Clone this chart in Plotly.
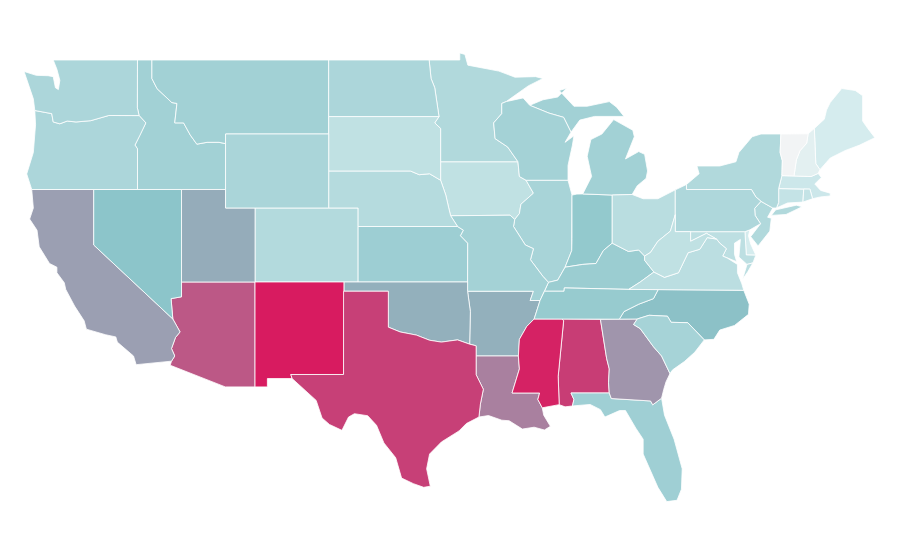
import plotly.graph_objects as go
from plotly.colors import sample_colorscale

states = ['AL','AR','AZ','CA','CO','CT','DE','FL','GA','IA','ID','IL','IN','KS','KY','LA','MA','MD','ME','MI','MN','MO','MS','MT','NC','ND','NE','NH','NJ','NM','NV','NY','OH','OK','OR','PA','RI','SC','SD','TN','TX','UT','VA','VT','WA','WI','WV','WY']
values = [90,56,82,61,31,23,15,40,64,25,39,36,46,41,42,70,19,26,15,39,32,38,98,39,51,34,30,8,32,100,49,32,28,56,34,33,23,37,25,44,89,57,27,0,34,38,25,35]

# 颜色刻度
colorscale = [[0, '#f2f4f5'], [0.15, '#d5ecee'], [0.5, '#8ac4c9'], [1, '#d81b60']]

# 州界 (lon, lat)：底图 topojson 无法离线加载，只能手工估计
outlines = {
    'WA': [[(-124.73,48.38),(-123.9,48.17),(-123.1,48.15),(-122.75,48.1),(-122.6,47.5),(-122.4,47.4),(-122.3,47.9),(-122.5,48.5),(-122.75,49),(-117.03,49),(-117.04,46.42),(-116.92,45.995),(-118.98,46),(-119.3,45.93),(-120.2,45.72),(-121.2,45.65),(-121.8,45.7),(-122.3,45.55),(-122.75,45.65),(-122.85,46.1),(-123.4,46.2),(-124,46.27),(-124.1,46.9),(-124.4,47.6)]],
    'OR': [[(-124,46.27),(-123.4,46.2),(-122.85,46.1),(-122.75,45.65),(-122.3,45.55),(-121.8,45.7),(-121.2,45.65),(-120.2,45.72),(-119.3,45.93),(-118.98,46),(-116.92,45.995),(-116.46,45.6),(-116.85,44.95),(-117.2,44.4),(-117.03,44.2),(-117.03,42),(-124.21,42),(-124.55,42.84),(-124.1,44),(-123.95,45.5)]],
    'CA': [[(-124.21,42),(-120,42),(-120,39),(-114.63,35),(-114.14,34.3),(-114.45,34),(-114.72,33.4),(-114.5,33),(-114.72,32.72),(-117.12,32.53),(-117.3,33),(-118.4,33.75),(-118.5,34.03),(-119.2,34.15),(-120.5,34.45),(-120.65,34.9),(-121.3,35.7),(-121.9,36.6),(-122,36.96),(-122.5,37.5),(-122.5,37.8),(-123,38),(-123.7,38.9),(-123.85,39.8),(-124.35,40.4),(-124.1,41)]],
    'NV': [[(-120,42),(-114.04,42),(-114.04,36.2),(-114.75,36.1),(-114.63,35),(-120,39)]],
    'ID': [[(-117.03,49),(-116.05,49),(-116.05,48),(-115.7,47.45),(-114.7,46.7),(-114.35,46.65),(-114.5,45.6),(-113.9,45.6),(-113.45,44.95),(-113,44.45),(-112.3,44.55),(-111.5,44.55),(-111.05,44.48),(-111.05,42),(-117.03,42),(-117.03,44.2),(-117.2,44.4),(-116.85,44.95),(-116.46,45.6),(-116.92,45.995),(-117.04,46.42)]],
    'MT': [[(-116.05,49),(-104.05,49),(-104.05,45),(-111.05,45),(-111.05,44.48),(-111.5,44.55),(-112.3,44.55),(-113,44.45),(-113.45,44.95),(-113.9,45.6),(-114.5,45.6),(-114.35,46.65),(-114.7,46.7),(-115.7,47.45),(-116.05,48)]],
    'WY': [[(-111.05,45),(-104.05,45),(-104.05,41),(-111.05,41)]],
    'UT': [[(-114.04,42),(-111.05,42),(-111.05,41),(-109.05,41),(-109.05,37),(-114.04,37)]],
    'CO': [[(-109.05,41),(-102.05,41),(-102.05,37),(-109.05,37)]],
    'AZ': [[(-114.04,37),(-109.05,37),(-109.05,31.33),(-111.07,31.33),(-114.81,32.5),(-114.72,32.72),(-114.5,33),(-114.72,33.4),(-114.45,34),(-114.14,34.3),(-114.63,35),(-114.75,36.1),(-114.04,36.2)]],
    'NM': [[(-109.05,37),(-103,37),(-103.04,32),(-106.62,32),(-106.53,31.78),(-108.21,31.78),(-108.21,31.33),(-109.05,31.33)]],
    'TX': [[(-103.04,36.5),(-100,36.5),(-100,34.56),(-99.2,34.3),(-98.1,34.13),(-97.2,33.85),(-96.4,33.75),(-95.3,33.87),(-94.48,33.64),(-94.04,33.55),(-94.04,31.99),(-93.55,31.2),(-93.75,30.4),(-93.85,29.7),(-94.7,29.35),(-95.2,28.95),(-96.4,28.35),(-97.2,27.7),(-97.4,26.9),(-97.15,25.96),(-97.6,25.9),(-98.3,26.1),(-99.1,26.4),(-99.5,27.5),(-100.3,28.3),(-100.8,29.25),(-101.4,29.77),(-102.3,29.88),(-102.7,29.7),(-103.15,28.98),(-104,29.3),(-104.5,29.65),(-104.9,30.6),(-106,31.4),(-106.53,31.78),(-106.62,32),(-103.04,32)]],
    'OK': [[(-103,37),(-94.62,37),(-94.62,36.5),(-94.43,35.4),(-94.48,33.64),(-95.3,33.87),(-96.4,33.75),(-97.2,33.85),(-98.1,34.13),(-99.2,34.3),(-100,34.56),(-100,36.5),(-103,36.5)]],
    'KS': [[(-102.05,40),(-95.3,40),(-94.9,39.8),(-95.1,39.5),(-94.61,39.1),(-94.62,37),(-102.05,37)]],
    'NE': [[(-104.05,43),(-98.5,43),(-97.9,42.8),(-97.2,42.85),(-96.45,42.5),(-96.1,41.7),(-95.9,41),(-95.77,40.58),(-95.3,40),(-102.05,40),(-102.05,41),(-104.05,41)]],
    'SD': [[(-104.05,45.94),(-96.56,45.94),(-96.85,45.6),(-96.45,45.3),(-96.45,42.5),(-97.2,42.85),(-97.9,42.8),(-98.5,43),(-104.05,43)]],
    'ND': [[(-104.05,49),(-97.23,49),(-97.1,48),(-96.85,47.5),(-96.56,45.94),(-104.05,45.94)]],
    'MN': [[(-97.23,49),(-95.15,49),(-95.15,49.38),(-94.8,49.3),(-94.6,48.72),(-93.5,48.55),(-92.5,48.4),(-91.4,48.07),(-90,48.1),(-89.5,48),(-90.5,47.6),(-92,46.75),(-92.3,46.65),(-92.3,46.1),(-92.85,45.6),(-92.75,44.75),(-91.9,44.3),(-91.2,43.5),(-96.45,43.5),(-96.45,45.3),(-96.85,45.6),(-96.56,45.94),(-96.85,47.5),(-97.1,48)]],
    'IA': [[(-96.45,43.5),(-91.2,43.5),(-91.1,42.7),(-90.65,42.5),(-90.15,41.8),(-91,41.2),(-91.1,40.7),(-91.42,40.38),(-91.73,40.61),(-95.77,40.58),(-95.9,41),(-96.1,41.7),(-96.45,42.5)]],
    'MO': [[(-95.77,40.58),(-91.73,40.61),(-91.42,40.38),(-91.5,40),(-90.7,39),(-90.15,38.8),(-90.35,38.2),(-89.5,37.3),(-89.13,36.98),(-89.4,36.5),(-89.7,36),(-90.37,36),(-90.15,36.5),(-94.62,36.5),(-94.62,37),(-94.61,39.1),(-95.1,39.5),(-94.9,39.8),(-95.3,40)]],
    'AR': [[(-94.62,36.5),(-90.15,36.5),(-90.37,36),(-89.7,36),(-90.1,35),(-90.6,34.6),(-91.1,33.9),(-91.17,33),(-94.04,33),(-94.04,33.55),(-94.48,33.64),(-94.43,35.4)]],
    'LA': [[(-94.04,33),(-91.17,33),(-91.1,32.3),(-91.6,31),(-89.73,31),(-89.85,30.65),(-89.55,30.2),(-89.45,29.8),(-89,29.2),(-89.4,29),(-90.1,29.15),(-90.9,29.05),(-91.8,29.5),(-92.3,29.53),(-93.2,29.78),(-93.85,29.7),(-93.75,30.4),(-93.55,31.2),(-94.04,31.99)]],
    'MS': [[(-90.1,35),(-88.2,35),(-88.1,34.9),(-88.47,31.9),(-88.4,30.37),(-89.55,30.2),(-89.85,30.65),(-89.73,31),(-91.6,31),(-91.1,32.3),(-91.17,33),(-91.1,33.9),(-90.6,34.6)]],
    'AL': [[(-88.2,35),(-85.6,34.98),(-85.18,32.87),(-85,32.3),(-85.05,31.55),(-85,31),(-87.6,31),(-87.4,30.65),(-87.5,30.3),(-88,30.25),(-88.4,30.37),(-88.47,31.9),(-88.1,34.9)]],
    'GA': [[(-85.6,34.98),(-83.1,35),(-83.35,34.7),(-82.9,34.48),(-82,33.5),(-81.45,33),(-80.88,32.05),(-81.15,31.6),(-81.3,31.2),(-81.45,30.72),(-82.05,30.36),(-82.2,30.57),(-84.86,30.7),(-85,31),(-85.05,31.55),(-85,32.3),(-85.18,32.87)]],
    'FL': [[(-87.6,31),(-85,31),(-84.86,30.7),(-82.2,30.57),(-82.05,30.36),(-81.45,30.72),(-81.25,29.8),(-80.6,28.5),(-80.05,26.9),(-80.1,25.8),(-80.4,25.2),(-81.1,25.13),(-81.7,25.9),(-82.1,26.6),(-82.7,27.7),(-82.7,28.5),(-83.2,29.1),(-83.9,30.05),(-84.3,30.05),(-85.3,29.7),(-85.6,30.1),(-86.3,30.38),(-87.5,30.3),(-87.4,30.65)]],
    'SC': [[(-83.1,35),(-82.3,35.2),(-81.05,35.15),(-80.8,34.82),(-79.67,34.8),(-78.55,33.87),(-79.2,33.2),(-79.9,32.7),(-80.7,32.25),(-80.88,32.05),(-81.45,33),(-82,33.5),(-82.9,34.48),(-83.35,34.7)]],
    'NC': [[(-84.32,34.99),(-83.1,35),(-82.3,35.2),(-81.05,35.15),(-80.8,34.82),(-79.67,34.8),(-78.55,33.87),(-77.9,33.9),(-77.5,34.4),(-76.5,34.65),(-75.55,35.25),(-75.5,35.8),(-75.87,36.55),(-81.68,36.59),(-82,36.1),(-83,35.8),(-84,35.4)]],
    'TN': [[(-90.1,35),(-88.2,35),(-85.6,34.98),(-84.32,34.99),(-84,35.4),(-83,35.8),(-82,36.1),(-81.68,36.59),(-83.68,36.6),(-88.05,36.68),(-88.07,36.5),(-89.4,36.5),(-89.7,36)]],
    'KY': [[(-89.4,36.5),(-88.07,36.5),(-88.05,36.68),(-83.68,36.6),(-82.9,37),(-81.97,37.54),(-82.6,38.17),(-82.6,38.4),(-83,38.73),(-83.7,38.65),(-84.8,39.1),(-85.4,38.7),(-85.9,38),(-86.8,37.95),(-88,37.8),(-88.5,37.1),(-89.13,36.98)]],
    'VA': [[(-83.68,36.6),(-81.68,36.59),(-75.87,36.55),(-76,36.9),(-76.3,37.5),(-76.3,37.95),(-77,38.3),(-77.3,38.4),(-77.05,38.8),(-77.5,39.1),(-77.72,39.32),(-78.35,39.4),(-78.85,38.77),(-79.65,38.58),(-80.3,37.5),(-81.25,37.25),(-81.97,37.54),(-82.9,37)],
           [(-75.95,37.15),(-75.6,37.55),(-75.25,38.03),(-75.65,37.95)]],
    'WV': [[(-82.6,38.17),(-81.97,37.54),(-81.25,37.25),(-80.3,37.5),(-79.65,38.58),(-78.85,38.77),(-78.35,39.4),(-77.72,39.32),(-78.4,39.63),(-79.48,39.2),(-79.48,39.72),(-80.52,39.72),(-80.52,40.64),(-80.85,39.75),(-81.7,39.2),(-82.2,38.6),(-82.6,38.4)]],
    'MD': [[(-79.48,39.72),(-75.79,39.72),(-75.7,38.46),(-75.05,38.45),(-75.25,38.03),(-75.65,37.95),(-76.2,38.35),(-76.1,39.3),(-76.5,39.1),(-76.5,38.5),(-76.35,38.1),(-77,38.3),(-77.3,38.4),(-77.05,38.8),(-77.5,39.1),(-77.72,39.32),(-78.4,39.63),(-79.48,39.2)]],
    'DE': [[(-75.79,39.72),(-75.45,39.82),(-75.55,39.5),(-75.4,39.05),(-75.05,38.45),(-75.7,38.46)]],
    'PA': [[(-80.52,41.98),(-79.76,42.27),(-79.76,42),(-75.35,42),(-75.05,41.6),(-74.7,41.36),(-75.13,40.98),(-75.1,40.6),(-74.73,40.15),(-75.45,39.82),(-75.79,39.72),(-80.52,39.72)]],
    'NJ': [[(-74.7,41.36),(-73.9,41),(-74.25,40.5),(-74,40.45),(-74.1,39.75),(-74.9,38.95),(-75.4,39.45),(-74.73,40.15),(-75.1,40.6),(-75.13,40.98)]],
    'NY': [[(-79.76,42),(-79.76,42.27),(-78.9,42.85),(-79.05,43.27),(-77.5,43.27),(-76.4,43.5),(-76.2,44),(-75.3,44.85),(-74.7,45),(-73.35,45),(-73.4,44),(-73.25,43.55),(-73.28,42.75),(-73.5,42.05),(-73.5,41.3),(-73.65,41),(-73.9,41),(-74.7,41.36),(-75.05,41.6),(-75.35,42)],
           [(-74,40.6),(-73.7,40.9),(-72.3,41.15),(-71.9,41.07),(-73,40.65)]],
    'CT': [[(-73.5,42.05),(-71.8,42.02),(-71.85,41.32),(-72.9,41.27),(-73.65,41),(-73.5,41.3)]],
    'RI': [[(-71.8,42.02),(-71.38,42.02),(-71.2,41.5),(-71.85,41.32)]],
    'MA': [[(-73.5,42.05),(-73.28,42.75),(-72.46,42.73),(-71.3,42.7),(-70.82,42.87),(-70.6,42.65),(-71.05,42.3),(-70.65,41.95),(-70,41.8),(-70,41.65),(-70.65,41.6),(-71.2,41.5),(-71.38,42.02),(-71.8,42.02)]],
    'VT': [[(-73.35,45),(-71.5,45.01),(-71.6,44.5),(-72.05,44.1),(-72.3,43.6),(-72.46,42.73),(-73.28,42.75),(-73.25,43.55),(-73.4,44)]],
    'NH': [[(-71.5,45.01),(-71.08,45.3),(-70.98,43.4),(-70.7,43.07),(-70.82,42.87),(-71.3,42.7),(-72.46,42.73),(-72.3,43.6),(-72.05,44.1),(-71.6,44.5)]],
    'ME': [[(-71.08,45.3),(-70.4,45.8),(-70.25,46.3),(-70,46.7),(-69.22,47.46),(-68.3,47.35),(-67.8,47.07),(-67.8,45.7),(-67.45,45.3),(-66.97,44.8),(-68,44.4),(-69,44.1),(-70,43.7),(-70.7,43.07),(-70.98,43.4)]],
    'OH': [[(-84.8,39.1),(-84.8,41.7),(-83.45,41.73),(-82.7,41.5),(-81.7,41.5),(-80.52,41.98),(-80.52,40.64),(-80.85,39.75),(-81.7,39.2),(-82.2,38.6),(-82.6,38.4),(-83,38.73),(-83.7,38.65)]],
    'IN': [[(-87.53,41.7),(-87.2,41.75),(-86.8,41.76),(-84.8,41.7),(-84.8,39.1),(-85.4,38.7),(-85.9,38),(-86.8,37.95),(-88,37.8),(-87.55,38.7),(-87.53,39.35)]],
    'IL': [[(-90.65,42.5),(-87.8,42.5),(-87.53,41.7),(-87.53,39.35),(-87.55,38.7),(-88,37.8),(-88.5,37.1),(-89.13,36.98),(-89.5,37.3),(-90.35,38.2),(-90.15,38.8),(-90.7,39),(-91.5,40),(-91.42,40.38),(-91.1,40.7),(-91,41.2),(-90.15,41.8)]],
    'WI': [[(-92.3,46.65),(-92,46.75),(-90.85,46.95),(-90.4,46.55),(-89.1,46.13),(-88.1,45.9),(-87.6,45.1),(-88,44.55),(-87.4,44.9),(-87.5,44.4),(-87.8,43.3),(-87.8,42.5),(-90.65,42.5),(-91.1,42.7),(-91.2,43.5),(-91.9,44.3),(-92.75,44.75),(-92.85,45.6),(-92.3,46.1)]],
    'MI': [[(-86.8,41.76),(-84.8,41.7),(-83.45,41.73),(-83.1,42.2),(-82.5,42.6),(-82.4,43),(-82.6,43.9),(-83,44.05),(-83.9,43.65),(-83.3,44.85),(-83.4,45.2),(-84.7,45.78),(-85.5,45),(-86.25,44.7),(-86.5,43.8),(-86.2,42.7)],
           [(-90.4,46.55),(-89.1,46.13),(-88.1,45.9),(-87.6,45.1),(-87,45.75),(-86,45.95),(-84,45.95),(-84.5,46.45),(-85,46.75),(-86.5,46.5),(-87.4,46.5),(-88.4,47.35),(-87.9,47.47),(-88.5,47),(-89.5,46.85)]],
}

fig = go.Figure()

for state, value in zip(states, values):
    lons, lats = [], []
    for part in outlines[state]:
        pts = part + [part[0]]
        lons += [p[0] for p in pts] + [None]
        lats += [p[1] for p in pts] + [None]
    fig.add_trace(go.Scatter(
        x=lons,
        y=lats,
        mode='lines',
        fill='toself',
        fillcolor=sample_colorscale(colorscale, value / 100)[0],
        line=dict(color='white', width=0.8),
        name=state,
        showlegend=False,
        hoverinfo='name',
    ))

fig.update_xaxes(range=[-125.82, -64.72], visible=False)
fig.update_yaxes(range=[21.54, 51.81], visible=False)

fig.update_layout(
    width=900,
    height=560,
    margin=dict(l=0, r=0, t=0, b=0),
    paper_bgcolor='white',
    plot_bgcolor='white',
)

fig.write_html('out.html')
